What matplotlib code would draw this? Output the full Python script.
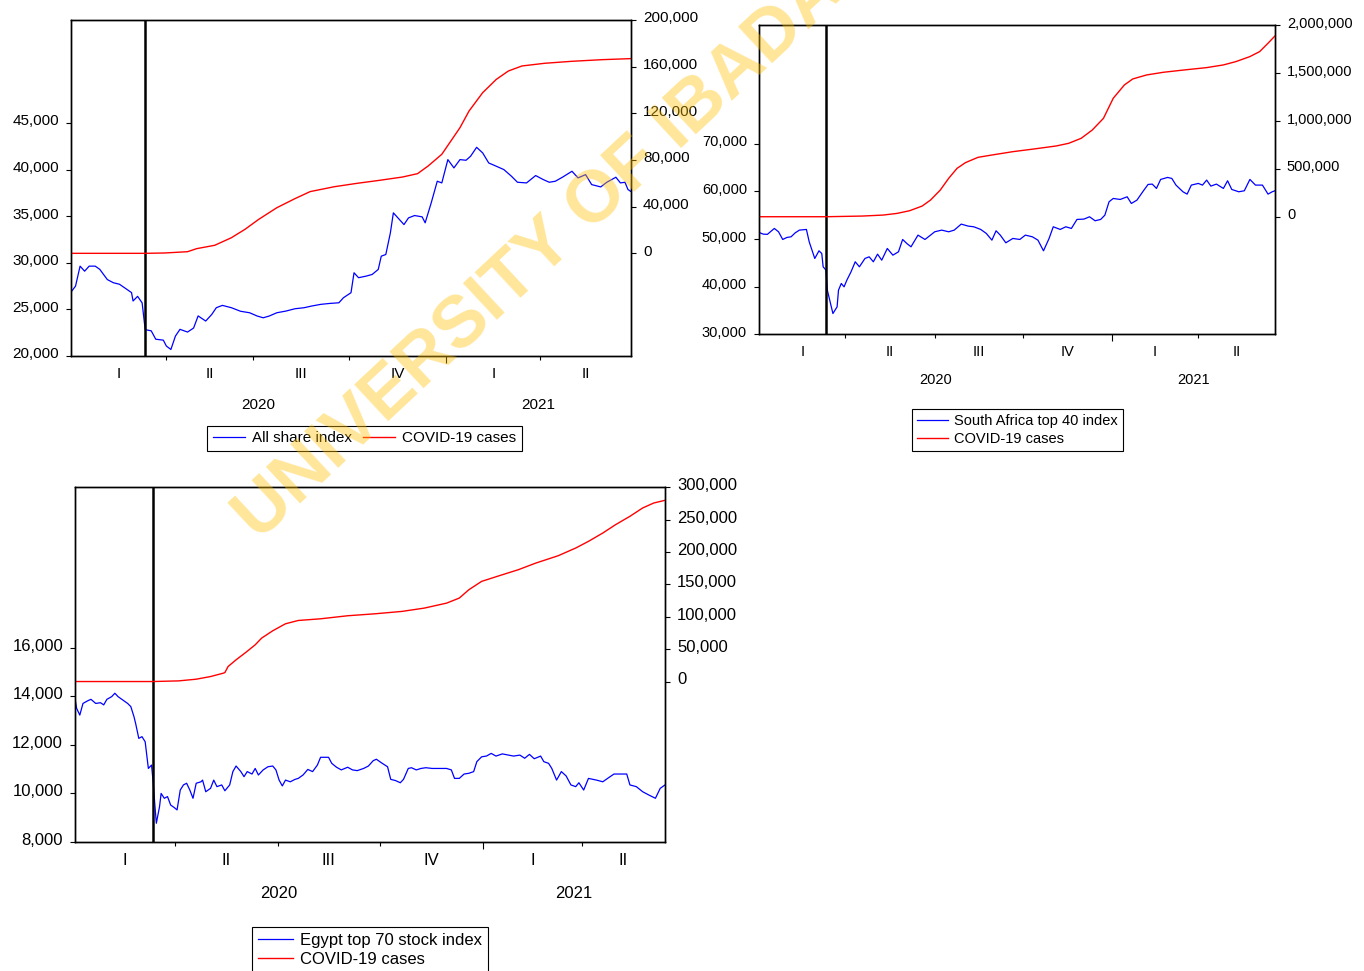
import matplotlib
matplotlib.use("Agg")
import matplotlib.pyplot as plt
import matplotlib.transforms as mtransforms
from matplotlib.lines import Line2D

plt.rcParams["font.family"] = ["Liberation Sans", "DejaVu Sans"]

# trading-day index of each reading, Jan 2020 - Jun 2021
QUARTERS = ["I", "II", "III", "IV", "I", "II"]
YEARS = ["2020", "2021"]

# --- Nigeria: All share index and cumulative COVID-19 cases
ngx_n = 370
ngx_quarter_starts = [63, 120, 184, 248, 310]
ngx_shock = 49
ngx_obs = [0, 3, 6, 9, 12, 16, 19, 24, 28, 32, 37, 40, 41, 44, 47, 49, 50, 53, 56, 61,
           63, 66, 69, 72, 77, 81, 84, 89, 93, 96, 100, 106, 112, 118, 123, 127, 131, 136, 142, 148,
           154, 159, 165, 171, 177, 180, 185, 187, 190, 195, 199, 203, 205, 208, 211, 213, 217, 220, 223, 227,
           232, 234, 238, 242, 245, 249, 253, 257, 261, 264, 268, 272, 276, 281, 286, 291, 295, 301, 307, 312,
           316, 320, 325, 331, 335, 340, 344, 350, 354, 360, 363, 366, 368, 370]
ngx_asi = [26860, 27500, 29640, 29100, 29640, 29640, 29300, 28200, 27860, 27700, 27140, 26800, 25900, 26400, 25700,
           22860, 22800, 22700, 21800, 21700, 21070, 20700, 22140, 22860, 22570, 23000, 24300, 23750, 24460, 25180,
           25430, 25180, 24800, 24640, 24290, 24100, 24290, 24640, 24820, 25070, 25180, 25360, 25540, 25640, 25710,
           26250, 26790, 28930, 28400, 28570, 28750, 29290, 30710, 30890, 33200, 35360, 34640, 34100, 34820, 35070,
           34930, 34290, 36430, 38750, 38570, 41070, 40180, 41070, 41000, 41430, 42390, 41790, 40710, 40360, 40000,
           39290, 38640, 38570, 39360, 38930, 38640, 38750, 39210, 39820, 39110, 39460, 38390, 38140, 38640, 39180,
           38570, 38640, 37860, 37640]
ngx_case_obs = [0, 49, 62, 77, 83, 95, 106, 115, 124, 136, 148, 158, 174, 189, 204, 219, 229, 236, 245, 251,
                257, 263, 272, 281, 289, 298, 313, 331, 351, 370]
ngx_cases = [0, 0, 300, 1400, 4000, 6900, 13400, 20600, 29100, 39100, 46900, 52900, 57100, 60000, 62600, 65400,
             68300, 74900, 84900, 96300, 107700, 122000, 137700, 149100, 156300, 160600, 162900, 164600, 166000,
             166900]

# --- South Africa: top 40 index and cumulative COVID-19 cases
jse_n = 370
jse_quarter_starts = [62, 126, 189, 253, 315]
jse_shock = 48
jse_obs = [0, 3, 6, 11, 14, 17, 20, 23, 26, 29, 34, 36, 40, 43, 45, 46, 48, 49, 51, 53,
           56, 57, 59, 61, 63, 66, 69, 72, 76, 79, 82, 85, 88, 92, 96, 100, 103, 106, 109, 114,
           119, 123, 126, 131, 136, 140, 145, 150, 154, 159, 163, 167, 170, 173, 177, 182, 187, 191, 196, 200,
           204, 208, 211, 216, 220, 224, 228, 233, 237, 241, 245, 248, 251, 254, 259, 264, 267, 271, 276, 279,
           282, 285, 288, 293, 296, 299, 304, 307, 310, 315, 318, 321, 324, 328, 333, 336, 339, 344, 348, 352,
           356, 361, 365, 368, 370]
jse_top40 = [51400, 51050, 51000, 52240, 51540, 49930, 50350, 50490, 51330, 51890, 52030, 49440, 45940, 47550,
             46990, 44200, 43500, 39300, 36850, 34400, 35800, 39300, 40700, 40000, 41400, 43150, 45250, 44200,
             45950, 46290, 45250, 46850, 45590, 48040, 46640, 47340, 49930, 49090, 48390, 50840, 49930, 50840,
             51540, 51890, 51540, 51890, 53150, 52730, 52590, 52030, 51190, 49790, 51750, 50840, 49230, 50140,
             49930, 50840, 50490, 49790, 47550, 50140, 52590, 52030, 52590, 52240, 54130, 54200, 54690, 53850,
             54130, 55030, 57830, 58530, 58320, 58880, 57480, 58180, 60280, 61470, 61540, 60630, 62520, 62940,
             62730, 61330, 59930, 59440, 61330, 61680, 61330, 62380, 61120, 61540, 60630, 62240, 60420, 59930,
             60140, 62520, 61330, 61330, 59440, 59930, 60140]
jse_case_obs = [0, 48, 74, 89, 99, 108, 117, 123, 130, 136, 142, 148, 157, 167, 182, 197, 213, 222, 231, 239,
                247, 254, 262, 268, 278, 290, 305, 321, 333, 342, 352, 359, 365, 370]
jse_cases = [0, 0, 7000, 17400, 34900, 62800, 111700, 174500, 279100, 401300, 505900, 565300, 621100, 645500,
             680400, 708300, 739700, 767600, 820000, 907200, 1029300, 1238700, 1378200, 1441000, 1482900,
             1510800, 1535200, 1559600, 1587600, 1622500, 1674800, 1727100, 1814400, 1891200]

# --- Egypt: top 70 stock index and cumulative COVID-19 cases
egx_n = 370
egx_quarter_starts = [63, 127, 191, 256, 318]
egx_shock = 49
egx_obs = [0, 1, 3, 5, 8, 10, 13, 16, 18, 20, 23, 25, 27, 30, 33, 35, 37, 38, 40, 42,
           44, 46, 48, 49, 50, 51, 53, 54, 56, 58, 60, 62, 64, 66, 68, 70, 72, 74, 76, 79,
           80, 82, 85, 87, 89, 92, 94, 97, 99, 101, 104, 106, 108, 111, 113, 115, 118, 121, 124, 126,
           128, 130, 132, 135, 138, 140, 143, 146, 149, 152, 154, 159, 161, 164, 167, 171, 174, 177, 181, 184,
           187, 189, 192, 196, 198, 201, 204, 206, 209, 211, 214, 217, 220, 224, 229, 233, 236, 237, 238, 241,
           244, 247, 250, 252, 255, 258, 261, 264, 268, 272, 275, 279, 282, 285, 288, 292, 294, 297, 299, 302,
           305, 308, 311, 314, 316, 319, 322, 327, 331, 334, 338, 342, 346, 348, 352, 356, 360, 364, 367, 370]
egx70 = [13910, 13500, 13220, 13700, 13810, 13870, 13700, 13730, 13640, 13870, 13980, 14120, 13980, 13840,
         13700, 13570, 13150, 12880, 12260, 12330, 12120, 11020, 11160, 10470, 9580, 8760, 9440, 9990, 9790,
         9860, 9510, 9420, 9310, 10130, 10340, 10410, 10130, 9790, 10410, 10470, 10540, 10060, 10200, 10540,
         10270, 10340, 10100, 10340, 10890, 11120, 10890, 10680, 10890, 10790, 11020, 10750, 10960, 11090,
         11120, 10960, 10540, 10300, 10540, 10470, 10570, 10610, 10750, 10980, 10890, 11160, 11480, 11480,
         11230, 11070, 10960, 11070, 10960, 10930, 11020, 11120, 11340, 11400, 11260, 11090, 10570, 10520,
         10430, 10570, 11020, 11050, 10960, 11020, 11050, 11020, 11020, 11020, 10960, 10790, 10610, 10610,
         10790, 10820, 10890, 11300, 11500, 11530, 11640, 11530, 11620, 11570, 11530, 11570, 11440, 11600,
         11420, 11530, 11300, 11230, 11020, 10540, 10890, 10710, 10340, 10270, 10430, 10130, 10610, 10540,
         10470, 10610, 10790, 10790, 10790, 10340, 10270, 10060, 9920, 9790, 10200, 10340]
egx_case_obs = [0, 49, 65, 76, 85, 93, 94, 96, 101, 107, 113, 117, 124, 132, 140, 154, 171, 188, 205, 219,
                233, 241, 247, 255, 266, 278, 289, 303, 314, 322, 331, 339, 348, 356, 363, 370]
egx_cases = [0, 0, 1000, 3600, 7700, 12900, 13900, 23200, 33500, 44800, 56700, 67000, 78400, 89200, 94300,
             96900, 101600, 104600, 108300, 113400, 121100, 128900, 141800, 154700, 163400, 172700, 183000,
             194300, 206200, 216500, 229400, 242300, 255200, 268100, 275800, 279900]


def fmt(v):
    return f"{v:,.0f}"


def draw_panel(fig, rect, obs, index, case_obs, cases, n_obs, quarter_starts, shock,
               left_lim, left_ticks, right_lim, right_ticks, index_label, fs,
               legend_anchor, legend_ncol, quarter_pad, year_pad):
    ax = fig.add_axes(rect)
    ax2 = ax.twinx()

    ax.plot(obs, index, color="#0000ff", lw=0.9, zorder=2)
    ax2.plot(case_obs, cases, color="#ff0000", lw=1.0, zorder=2)
    ax.axvline(shock, color="black", lw=1.8, zorder=4)

    ax.set_xlim(0, n_obs)
    ax.set_ylim(*left_lim)
    ax2.set_ylim(*right_lim)

    ax.set_yticks(left_ticks)
    ax.set_yticklabels([fmt(t) for t in left_ticks])
    ax2.set_yticks(right_ticks)
    ax2.set_yticklabels([fmt(t) for t in right_ticks])
    ax.tick_params(axis="y", length=3.6, width=0.8, pad=5, labelsize=fs)
    ax2.tick_params(axis="y", length=3.6, width=0.8, pad=5, labelsize=fs)

    # year boundary gets the longer tick, quarter boundaries the short ones
    year_start = quarter_starts[3]
    ax.set_xticks([year_start])
    ax.set_xticks([q for q in quarter_starts if q != year_start], minor=True)
    ax.tick_params(axis="x", which="major", length=4.8, width=0.8, labelbottom=False)
    ax.tick_params(axis="x", which="minor", length=3.2, width=0.8, labelbottom=False)

    lift = mtransforms.ScaledTranslation(0, 2.2 / 72, fig.dpi_scale_trans)
    for lab in ax.get_yticklabels() + ax2.get_yticklabels():
        lab.set_transform(lab.get_transform() + lift)

    for a in (ax, ax2):
        for sp in a.spines.values():
            sp.set_linewidth(1.0)

    bounds = [0] + list(quarter_starts) + [n_obs]
    xt = ax.get_xaxis_transform()
    for name, lo, hi in zip(QUARTERS, bounds[:-1], bounds[1:]):
        ax.annotate(name, xy=((lo + hi) / 2, 0), xycoords=xt, xytext=(0, -quarter_pad),
                    textcoords="offset points", ha="center", va="center", fontsize=fs)
    for name, lo, hi in zip(YEARS, [0, year_start], [year_start, n_obs]):
        ax.annotate(name, xy=((lo + hi) / 2, 0), xycoords=xt, xytext=(0, -year_pad),
                    textcoords="offset points", ha="center", va="center", fontsize=fs)

    handles = [Line2D([], [], color="#0000ff", lw=0.9), Line2D([], [], color="#ff0000", lw=1.0)]
    leg = fig.legend(handles, [index_label, "COVID-19 cases"], loc="upper center",
                     bbox_to_anchor=legend_anchor, ncol=legend_ncol, fontsize=fs,
                     frameon=True, fancybox=False, edgecolor="black", framealpha=1,
                     handlelength=2.1, handletextpad=0.45, columnspacing=0.75,
                     borderpad=0.35, labelspacing=0.25, borderaxespad=0)
    leg.get_frame().set_linewidth(0.8)
    return ax, ax2


fig = plt.figure(figsize=(13.64, 9.71), dpi=100)

draw_panel(fig, [0.05205, 0.63337, 0.41056, 0.34604], ngx_obs, ngx_asi, ngx_case_obs, ngx_cases,
           ngx_n, ngx_quarter_starts, ngx_shock,
           (20000, 56050), list(range(20000, 45001, 5000)),
           (-88000, 200000), list(range(0, 200001, 40000)),
           "All share index", 11, (0.2672, 0.5613), 2, 13, 35)

draw_panel(fig, [0.55645, 0.65551, 0.37830, 0.31823], jse_obs, jse_top40, jse_case_obs, jse_cases,
           jse_n, jse_quarter_starts, jse_shock,
           (30000, 94800), list(range(30000, 70001, 10000)),
           (-1231700, 2000000), list(range(0, 2000001, 500000)),
           "South Africa top 40 index", 10.5, (0.7460, 0.5788), 1, 12.3, 32.8)

draw_panel(fig, [0.05499, 0.13316, 0.43255, 0.36498], egx_obs, egx70, egx_case_obs, egx_cases,
           egx_n, egx_quarter_starts, egx_shock,
           (8000, 22610), list(range(8000, 16001, 2000)),
           (-247400, 300000), list(range(0, 300001, 50000)),
           "Egypt top 70 stock index", 12, (0.2713, 0.04531), 1, 13.7, 37.2)

fig.text(0.409, 0.756, "UNIVERSITY OF IBADAN", fontsize=52, fontweight="bold",
         color="#ffc000", alpha=0.4, rotation=43, ha="center", va="center",
         rotation_mode="anchor", zorder=10)

fig.savefig("out.png", dpi=100)
